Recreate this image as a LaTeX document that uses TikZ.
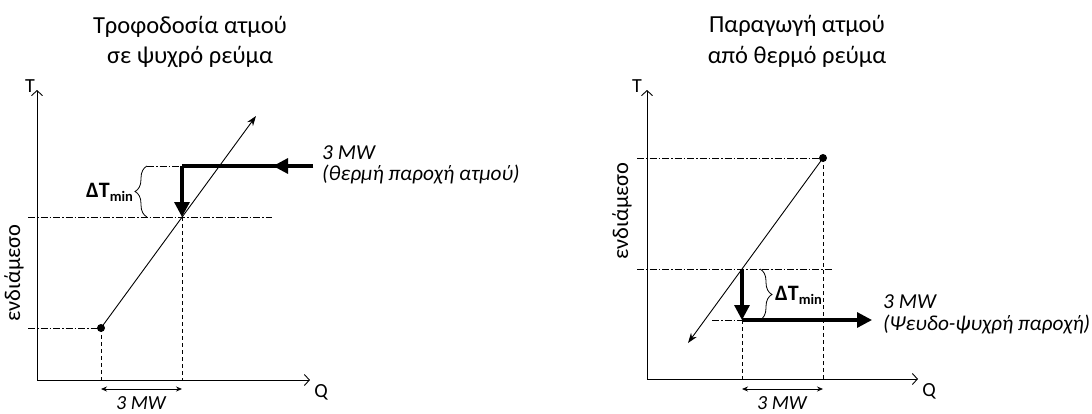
\documentclass[tikz,border=0pt]{standalone}
\usepackage{fontspec}
\setmainfont{Carlito}
\usetikzlibrary{arrows.meta,decorations.pathreplacing}
\newcommand{\dtmin}{{\fontsize{22}{24}\selectfont\bfseries ΔT}{\fontsize{14.5}{16}\selectfont\bfseries\raisebox{-4.5pt}{min}}}
\begin{document}
\begin{tikzpicture}[x=1pt,y=-1pt,
  dashdot/.style={line width=0.8pt, dash pattern=on 7pt off 2pt on 1.5pt off 2pt},
  dashv/.style={line width=0.8pt, dash pattern=on 4pt off 3pt},
  axis/.style={line width=0.9pt, -{Straight Barb[length=5pt,width=11pt]}},
  stream/.style={line width=0.9pt, -{Stealth[length=10pt,width=7pt]}},
  heavy/.style={line width=3.2pt},
  heavyarrow/.style={line width=3.2pt, -{Triangle[length=15pt,width=15pt]}},
  dimarrow/.style={line width=0.8pt, {Stealth[length=6pt,width=5pt]}-{Stealth[length=6pt,width=5pt]}},
  bracestyle/.style={decorate, decoration={brace, amplitude=12pt}, line width=0.8pt},
  title/.style={font=\fontsize{24.5}{30}\selectfont, inner sep=0pt, anchor=base},
  lbl/.style={font=\fontsize{20}{22}\selectfont, inner sep=0pt},
  side/.style={font=\fontsize{22.5}{24}\selectfont, inner sep=0pt, rotate=90},
  itl/.style={font=\fontsize{21.3}{24}\selectfont\itshape, inner sep=0pt, anchor=base west},
  dimlbl/.style={font=\fontsize{20}{22}\selectfont\itshape, inner sep=0pt, anchor=base},
  dt/.style={inner sep=0pt, anchor=base west},
  dotstyle/.style={circle, fill, inner sep=0pt, minimum size=8pt}
]
\useasboundingbox (0,0) rectangle (1092,413);

% ---------------- left diagram ----------------
\node[title] (ltitle1) at (190,33) {Τροφοδοσία ατμού};
\node[title] (ltitle2) at (190,63) {σε ψυχρό ρεύμα};
\coordinate (L0) at (37,380);
\coordinate (LT) at (37,90);
\coordinate (LQ) at (310,380);
\node[lbl] (LTl) at (30,86) {T};
\node[lbl] (LQl) at (321,392) {Q};
\node[side] (Lmid) at (14,273) {ενδιάμεσο};
\draw[axis] (L0) -- (LT);
\draw[axis] (L0) -- (LQ);

\coordinate (Lcold) at (101,328);
\coordinate (Lpinch) at (182,217);
\coordinate (Lend) at (256,116);
\coordinate (Lhot) at (182,166);
\coordinate (Lin) at (313,166);
\coordinate (Lmidtip) at (273,166);

\draw[dashdot] (28,328) -- (Lcold);
\draw[dashdot] (28,217) -- (272,217);
\draw[dashdot] (147,166) -- (Lhot);
\draw[dashv] (Lcold) -- (101,380);
\draw[dashv] (Lpinch) -- (182,380);
\draw[dimarrow] (101,389) -- (182,389);
\node[dimlbl] (Ldim) at (141,409) {3 MW};

\draw[stream] (Lcold) -- (Lend);
\node[dotstyle] (Lcolddot) at (Lcold) {};

\draw[heavy] (Lin) -- (Lhot);
\draw[heavyarrow] (Lin) -- (Lmidtip);
\draw[heavyarrow] (Lhot) -- (Lpinch);

\draw[bracestyle] (147,217) -- (147,166);
\node[dt] (Ldt) at (86,197) {\dtmin};
\node[itl] (Lq1) at (322,159) {3 MW};
\node[itl] (Lq2) at (322,180) {(θερμή παροχή ατμού)};

% ---------------- right diagram ----------------
\node[title] (rtitle1) at (797,32) {Παραγωγή ατμού};
\node[title] (rtitle2) at (797,63) {από θερμό ρεύμα};
\coordinate (R0) at (647,379);
\coordinate (RT) at (647,90);
\coordinate (RQ) at (918,379);
\node[lbl] (RTl) at (637,86) {T};
\node[lbl] (RQl) at (929,391) {Q};
\node[side] (Rmid) at (622,211) {ενδιάμεσο};
\draw[axis] (R0) -- (RT);
\draw[axis] (R0) -- (RQ);

\coordinate (Rhot) at (823,158);
\coordinate (Rpinch) at (742,269);
\coordinate (Rend) at (688,343);
\coordinate (Rlow) at (742,320);
\coordinate (Rout) at (872,320);

\draw[dashdot] (637,158) -- (Rhot);
\draw[dashdot] (637,269) -- (833,269);
\draw[dashdot] (712,320) -- (Rlow);
\draw[dashv] (Rhot) -- (823,379);
\draw[dashv] (Rlow) -- (742,379);
\draw[dimarrow] (742,389) -- (823,389);
\node[dimlbl] (Rdim) at (782,409) {3 MW};

\draw[stream] (Rhot) -- (Rend);
\node[dotstyle] (Rhotdot) at (Rhot) {};

\draw[heavyarrow] (Rpinch) -- (Rlow);
\draw[heavyarrow] (Rlow) -- (Rout);

\draw[bracestyle] (760,269) -- (760,320);
\node[dt] (Rdt) at (775,300) {\dtmin};
\node[itl] (Rq1) at (883,308) {3 MW};
\node[itl] (Rq2) at (883,330) {(Ψευδο-ψυχρή παροχή)};
\end{tikzpicture}
\end{document}
